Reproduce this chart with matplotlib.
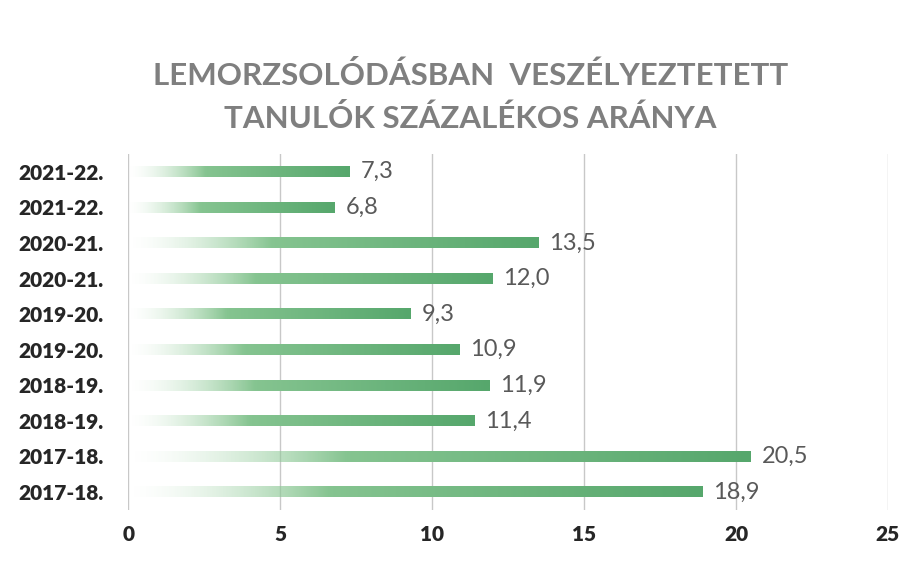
import numpy as np
import matplotlib.pyplot as plt
from matplotlib.colors import to_rgb

# data, bottom row first
years = ["2017-18.", "2017-18.", "2018-19.", "2018-19.", "2019-20.",
         "2019-20.", "2020-21.", "2020-21.", "2021-22.", "2021-22."]
values = [18.9, 20.5, 11.4, 11.9, 10.9, 9.3, 12.0, 13.5, 6.8, 7.3]
xticks = [0, 5, 10, 15, 20, 25]

title = "LEMORZSOLÓDÁSBAN  VESZÉLYEZTETETT\nTANULÓK SZÁZALÉKOS ARÁNYA"

plt.rcParams['font.family'] = ['Lato', 'DejaVu Sans']

fig = plt.figure(figsize=(9.22, 5.64), dpi=100)
ax = fig.add_axes([0.139, 0.096, 0.824, 0.631])

light = np.array(to_rgb("#9fd4a4"))
dark = np.array(to_rgb("#56a76c"))
bar_h = 0.3

for i, v in enumerate(values):
    n = 200
    t = np.linspace(0, 1, n)
    col = light[None, :] * (1 - t[:, None]) + dark[None, :] * t[:, None]
    alpha = np.clip(t / 0.35, 0, 1) ** 1.5
    img = np.dstack([col[:, 0], col[:, 1], col[:, 2], alpha])
    ax.imshow(img, extent=[0, v, i - bar_h / 2, i + bar_h / 2],
              aspect='auto', interpolation='bilinear', zorder=3)
    ax.text(v + 0.35, i, f"{v:.1f}".replace(".", ","), va='center', ha='left',
            fontsize=17, color="#595959", zorder=4)

ax.set_xlim(0, 25)
ax.set_ylim(-0.5, len(values) - 0.5)
ax.set_xticks(xticks)
ax.set_xticklabels([str(x) for x in xticks], fontsize=15, fontweight='heavy',
                   color="#262626")
ax.set_yticks(range(len(years)))
ax.set_yticklabels(years, fontsize=15, fontweight='heavy', color="#262626")
ax.tick_params(length=0)
ax.tick_params(axis='x', pad=11)
ax.tick_params(axis='y', pad=18)
ax.grid(axis='x', color="#c8c8c8", linewidth=1, zorder=0)
for s in ax.spines.values():
    s.set_visible(False)

fig.text(0.51, 0.828, title, ha='center', va='center', fontsize=22.5,
         fontweight='bold', color="#7f7f7f", linespacing=1.6)

fig.savefig("out.png", dpi=100)
